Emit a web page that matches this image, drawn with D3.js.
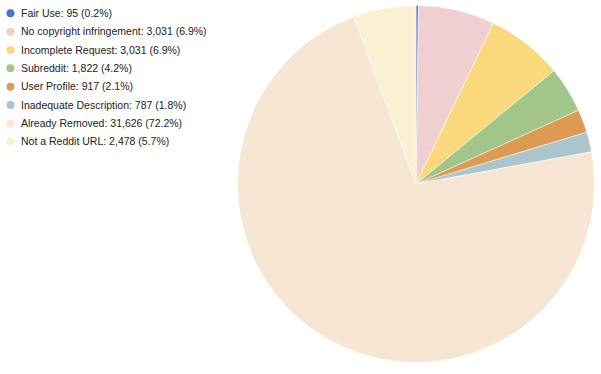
<!DOCTYPE html>
<html><head><meta charset="utf-8">
<script src="https://cdn.jsdelivr.net/npm/d3@7"></script>
<style>body{margin:0;background:#fff}svg{display:block}</style>
</head><body>
<svg id="c" width="601" height="374"></svg>
<script>
const categories = ["Fair Use","No copyright infringement","Incomplete Request","Subreddit","User Profile","Inadequate Description","Already Removed","Not a Reddit URL"];
const values = [95, 3031, 3031, 1822, 917, 787, 31626, 2478];
const percents = ["0.2%","6.9%","6.9%","4.2%","2.1%","1.8%","72.2%","5.7%"];
const colors = ["#4676d0","#efcfcf","#f9d97b","#a2c58a","#dc9a52","#abc5cd","#f8e6d4","#fcf0d2"];

const svg = d3.select("#c");
const cx = 416, cy = 184, r = 178.5;
const pie = d3.pie().sort(null).value(d => d)(values);
const arc = d3.arc().innerRadius(0).outerRadius(r);
svg.append("g").attr("transform", `translate(${cx},${cy})`)
  .selectAll("path").data(pie).join("path")
  .attr("d", arc).attr("fill", (d,i) => colors[i])
  .attr("stroke", "#fff").attr("stroke-width", 0.5);

const fmt = d3.format(",");
const lg = svg.append("g");
const row = lg.selectAll("g").data(categories).join("g")
  .attr("transform", (d,i) => `translate(0,${13.3 + i*18.35})`);
row.append("circle").attr("cx", 10.5).attr("cy", 0).attr("r", 4).attr("fill", (d,i) => colors[i]);
row.append("text").attr("x", 21).attr("y", 0).attr("dy", "0.35em")
  .attr("font-family", "'Liberation Sans', Arial, sans-serif").attr("font-size", 10.5).attr("fill", "#222")
  .text((d,i) => `${d}: ${fmt(values[i])} (${percents[i]})`);
</script>
</body></html>
